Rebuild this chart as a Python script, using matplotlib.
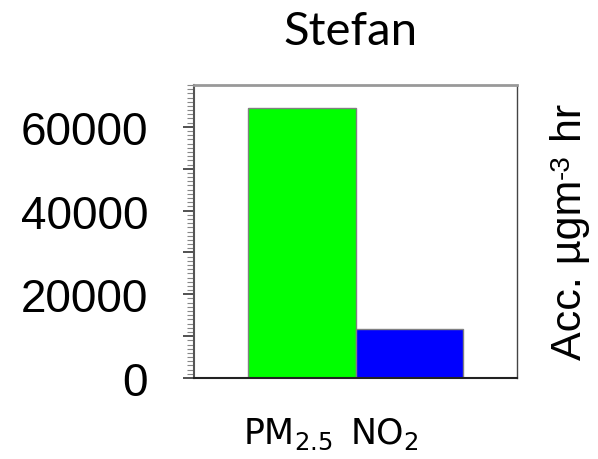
import matplotlib
matplotlib.use("Agg")
import matplotlib.pyplot as plt
import matplotlib.transforms as mtransforms
from matplotlib.ticker import MultipleLocator, FixedLocator

categories = [r"$\mathregular{PM_{2.5}}$", r"$\mathregular{NO_{2}}$"]
values = [64400, 11700]
colors = ["#00ff00", "#0000ff"]
major_ticks = [0, 10000, 20000, 30000, 40000, 50000, 60000]
tick_labels = ["0", "", "20000", "", "40000", "", "60000"]
title = "Stefan"
ylabel_parts = ["Acc. \u00b5gm", "-3", " hr"]

plt.rcParams["mathtext.fontset"] = "custom"
plt.rcParams["mathtext.rm"] = "Lato"
plt.rcParams["mathtext.it"] = "Lato"

fig = plt.figure(figsize=(5.98, 4.6), dpi=100)
ax = fig.add_axes([194/598, 1-379/460, (517-194)/598, (379-86)/460])

x = [1, 2]
ax.bar(x, values, width=1.0, color=colors, edgecolor="#808080", linewidth=1.0, zorder=2)
ax.set_xlim(0, 3)
ax.set_ylim(0, 70000)

ax.yaxis.set_major_locator(FixedLocator(major_ticks))
ax.yaxis.set_minor_locator(MultipleLocator(1000))
ax.set_yticklabels(tick_labels, fontname="Liberation Sans", fontsize=33)
ax.tick_params(axis="y", which="major", direction="out", length=8, width=1.2,
               color="#333333", pad=25)
ax.tick_params(axis="y", which="minor", direction="out", length=5, width=0.8,
               color="#888888")

ax.set_xticks(x)
ax.set_xticklabels(categories, fontsize=25)
ax.tick_params(axis="x", length=0, pad=27)
offsets = [-14, -25]
for lab, dx in zip(ax.get_xticklabels(), offsets):
    lab.set_transform(lab.get_transform() + mtransforms.ScaledTranslation(dx/100, 0, fig.dpi_scale_trans))

for side, col, lw in [("left", "#555555", 1.5), ("bottom", "#222222", 1.5),
                      ("top", "#999999", 2.0), ("right", "#444444", 1.0)]:
    ax.spines[side].set_color(col)
    ax.spines[side].set_linewidth(lw)

fig.text(350/598, 1-32/460, title, fontname="Lato", fontsize=34, ha="center", va="center")

# rotated y label on the right, composed of pieces (superscript -3)
renderer = fig.canvas.get_renderer()
xc = 570
y0 = 460 - 360
t1 = fig.text(xc/598, y0/460, ylabel_parts[0], fontname="Liberation Sans", fontsize=31,
              rotation=90, ha="center", va="bottom")
bb1 = t1.get_window_extent(renderer)
t2 = fig.text((bb1.x0 - 1)/598, (bb1.y1 + 1)/460, ylabel_parts[1], fontname="Liberation Sans",
              fontsize=20, rotation=90, ha="left", va="bottom")
bb2 = t2.get_window_extent(renderer)
t3 = fig.text(xc/598, bb2.y1/460, ylabel_parts[2], fontname="Liberation Sans", fontsize=31,
              rotation=90, ha="center", va="bottom")

fig.savefig("out.png", dpi=100)
